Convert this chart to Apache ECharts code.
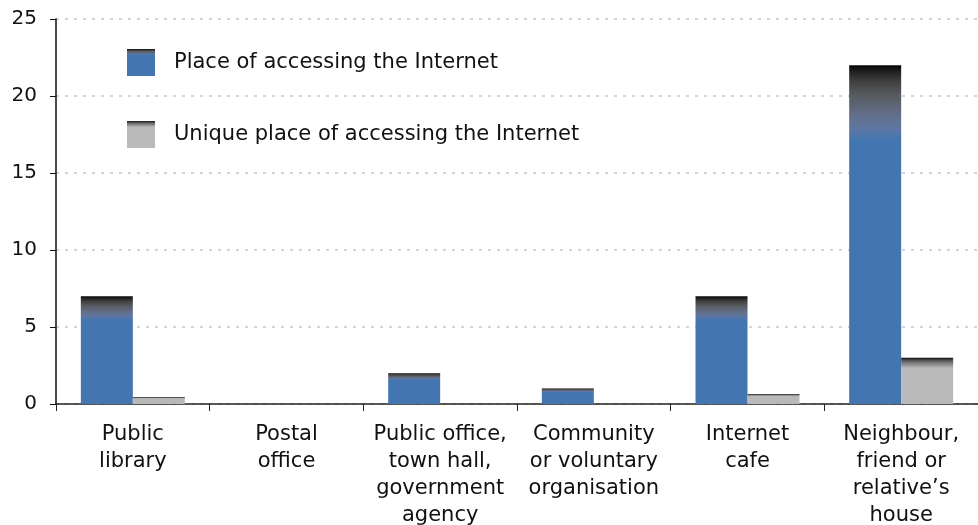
<!DOCTYPE html>
<html>
<head>
<meta charset="utf-8">
<script src="https://cdn.jsdelivr.net/npm/echarts@6/dist/echarts.min.js"></script>
<style>
  html, body { margin: 0; padding: 0; background: #fff; }
  #chart { width: 978px; height: 525px; }
</style>
</head>
<body>
<div id="chart"></div>
<script>
// Where people go online outside the home (%)
const categories = [
  'Public\nlibrary',
  'Postal\noffice',
  'Public office,\ntown hall,\ngovernment\nagency',
  'Community\nor voluntary\norganisation',
  'Internet\ncafe',
  'Neighbour,\nfriend or\nrelative\u2019s\nhouse'
];
const seriesNames = ['Place of accessing the Internet', 'Unique place of accessing the Internet'];
const placeValues = [7, 0, 2, 1, 7, 22];
const uniqueValues = [0.45, 0, 0, 0, 0.65, 3];
const yTicks = { min: 0, max: 25, interval: 5 };

// Bars fade from black at the top into their fill colour
function topShade(stops, base) {
  return new echarts.graphic.LinearGradient(0, 0, 0, 1,
    stops.map(([offset, color]) => ({ offset, color })).concat([{ offset: 1, color: base }])
  );
}
const blueFill = topShade([
  [0, '#050505'], [0.015, '#1c1c1c'], [0.05, '#424243'], [0.09, '#585b61'],
  [0.15, '#63708c'], [0.19, '#5d76a3'], [0.22, '#4376b1']
], '#4376b1');
const greyFill = topShade([
  [0, '#050505'], [0.02, '#2a2a2a'], [0.06, '#555555'], [0.11, '#7a7a7a'],
  [0.17, '#999999'], [0.22, '#b9b9b9']
], '#b9b9b9');

const font = 'DejaVu Sans, Verdana, sans-serif';
const chart = echarts.init(document.getElementById('chart'), null, { renderer: 'canvas' });

chart.setOption({
  animation: false,
  textStyle: { fontFamily: font },
  grid: { left: 56, right: 0, top: 19, bottom: 121, containLabel: false, outerBoundsMode: 'none' },
  legend: {
    orient: 'vertical',
    left: 127,
    top: 49,
    padding: 0,
    itemWidth: 28,
    itemHeight: 27,
    itemGap: 45,
    icon: 'rect',
    textStyle: { fontFamily: font, fontSize: 21, color: '#111', padding: [0, 0, 0, 14] },
    data: seriesNames
  },
  xAxis: {
    type: 'category',
    data: categories,
    axisLine: { lineStyle: { color: '#222', width: 1.5 } },
    axisTick: { show: true, length: 7, lineStyle: { color: '#222' } },
    axisLabel: {
      interval: 0,
      fontFamily: font,
      fontSize: 21,
      color: '#111',
      lineHeight: 27,
      margin: 17,
      verticalAlign: 'top'
    }
  },
  yAxis: {
    type: 'value',
    min: yTicks.min,
    max: yTicks.max,
    interval: yTicks.interval,
    axisLine: { show: true, lineStyle: { color: '#111', width: 1.5 } },
    axisTick: { show: true, length: 6, lineStyle: { color: '#111' } },
    axisLabel: { fontFamily: font, fontSize: 20, color: '#111', margin: 19 },
    splitLine: { show: true, lineStyle: { color: '#c8c8c8', type: [3, 6], width: 1.5 } }
  },
  series: [
    {
      name: seriesNames[0],
      type: 'bar',
      data: placeValues,
      barWidth: 52,
      barGap: '0%',
      itemStyle: { color: blueFill }
    },
    {
      name: seriesNames[1],
      type: 'bar',
      data: uniqueValues,
      barWidth: 52,
      barGap: '0%',
      itemStyle: { color: greyFill }
    }
  ]
});
</script>
</body>
</html>
